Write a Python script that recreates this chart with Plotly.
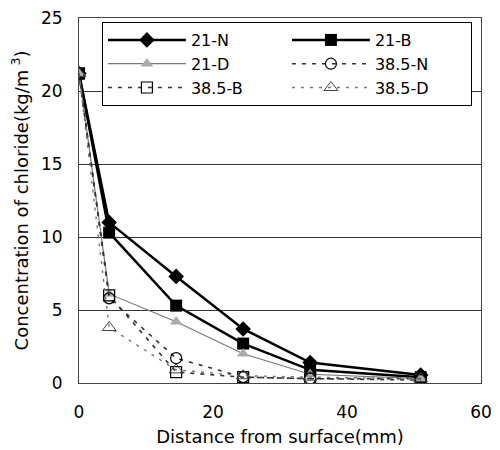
import plotly.graph_objects as go

distance = [0, 4.5, 14.5, 24.5, 34.5, 51]
n21 = [21.2, 11.0, 7.3, 3.7, 1.4, 0.55]
b21 = [21.2, 10.3, 5.3, 2.7, 0.9, 0.4]
d21 = [21.2, 6.1, 4.2, 2.0, 0.6, 0.3]
n385 = [21.2, 5.8, 1.7, 0.4, 0.3, 0.3]
b385 = [21.2, 6.0, 0.75, 0.4, 0.3, 0.2]
d385 = [21.2, 3.8, 0.9, 0.5, 0.4, 0.3]

names = ["21-N", "21-B", "21-D", "38.5-N", "38.5-B", "38.5-D"]

styles = [
    dict(line=dict(color="black", width=2.5), marker=dict(symbol="diamond", size=12, color="black")),
    dict(line=dict(color="black", width=2.5), marker=dict(symbol="square", size=12, color="black")),
    dict(line=dict(color="#777777", width=1.2), marker=dict(symbol="triangle-up", size=11, color="#aaaaaa")),
    dict(line=dict(color="#333333", width=1.6, dash="4px,6px"), marker=dict(symbol="circle-open", size=11, color="black", line=dict(width=1.2))),
    dict(line=dict(color="#333333", width=1.6, dash="4px,6px"), marker=dict(symbol="square-open", size=11, color="black", line=dict(width=1.2))),
    dict(line=dict(color="#777777", width=1.4, dash="3px,6px"), marker=dict(symbol="triangle-up-open", size=12, color="#444444", line=dict(width=1))),
]

fig = go.Figure()
for name, ys, st in zip(names, [n21, b21, d21, n385, b385, d385], styles):
    fig.add_trace(go.Scatter(x=distance, y=ys, name=name, mode="lines+markers", **st))

fam = "DejaVu Sans, Arial, sans-serif"
# page has an 8px body margin; figure sized/margined to compensate
fig.update_layout(
    width=492, height=442,
    margin=dict(l=71, r=19, t=10, b=67, autoexpand=False),
    paper_bgcolor="white", plot_bgcolor="white",
    font=dict(family=fam, size=16, color="black"),
    showlegend=True,
    legend=dict(
        orientation="h", x=0.057, y=0.989, xanchor="left", yanchor="top",
        entrywidth=91, entrywidthmode="pixels",
        bordercolor="black", borderwidth=1, bgcolor="white",
        font=dict(family=fam, size=16),
        tracegroupgap=0, itemwidth=78,
    ),
    xaxis=dict(
        range=[0, 60], tickvals=[0, 20, 40, 60], showgrid=False, zeroline=False,
        showline=True, linecolor="#444", mirror=True, ticks="", automargin=False,
        ticklabelstandoff=14, ticklabeloverflow="allow",
        title=dict(text="Distance from surface(mm)", standoff=8, font=dict(size=18)),
        tickfont=dict(size=17),
    ),
    yaxis=dict(
        range=[0, 25], tickvals=[0, 5, 10, 15, 20, 25], showgrid=True, gridcolor="#333", gridwidth=1,
        zeroline=False, showline=True, linecolor="#444", mirror=True, ticks="", automargin=False,
        ticklabelstandoff=12, ticklabeloverflow="allow",
        title=dict(text="Concentration of chloride(kg/m<sup> 3</sup>)", standoff=8, font=dict(size=18)),
        tickfont=dict(size=17),
    ),
)

fig.write_html("out.html")
